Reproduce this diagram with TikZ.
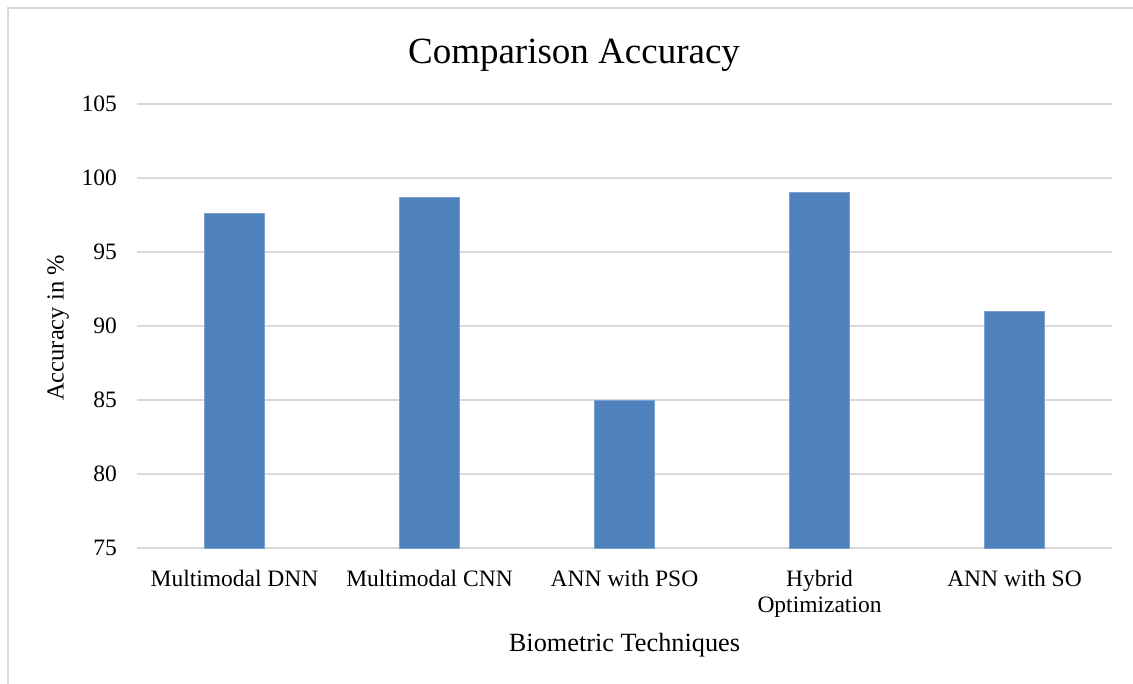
\documentclass[tikz,border=0pt]{standalone}
\usepackage{fontspec}
\setmainfont{Liberation Serif}
\usetikzlibrary{positioning}
\definecolor{barblue}{HTML}{4F81BD}
\definecolor{gridgray}{HTML}{D9D9D9}

\begin{document}
\begin{tikzpicture}[x=1pt, y=1pt,
    gridline/.style={draw=gridgray, line width=1.5pt},
    bar/.style={fill=barblue, draw=barblue!75!white, line width=0.6pt, inner sep=0pt, outer sep=0pt, anchor=south},
    ticklabel/.style={anchor=east, inner sep=0pt, font=\fontsize{23.5}{27}\selectfont},
    catlabel/.style={inner sep=0pt, align=center, font=\fontsize{23.5}{26.5}\selectfont}]
    \useasboundingbox (0,0) rectangle (1133,684);

    % chart frame, only left and top edges are visible
    \draw[gridgray, line width=1.5pt] (8,0) -- (8,676) -- (1133,676);

    \node[font=\fontsize{37}{42}\selectfont, anchor=base](title) at (574,620) {Comparison Accuracy};

    % gridlines and value axis
    \foreach \v [count=\i from 0] in {75,80,85,90,95,100,105}{
        \pgfmathsetmacro{\yy}{136+\i*74}
        \draw[gridline] (137,\yy) -- (1112,\yy);
        \node[ticklabel](t\v) at (117,\yy) {\v};
    }

    % bars with category labels
    \foreach \lab/\val [count=\i] in {Multimodal DNN/97.6, Multimodal CNN/98.7, ANN with PSO/85,
        Hybrid\\Optimization/99, ANN with SO/91}{
        \pgfmathsetmacro{\cx}{137+(\i-0.5)*195}
        \pgfmathsetmacro{\hh}{(\val-75)*14.8}
        \node[bar, minimum width=60pt, minimum height=\hh pt](bar\i) at (\cx,136) {};
        \node[catlabel, below=22pt of bar\i.south, anchor=north](cat\i) {\lab};
    }

    \node[catlabel, font=\fontsize{26.3}{30}\selectfont, anchor=base](xtitle) at (624.5,32) {Biometric Techniques};
    \node[catlabel, font=\fontsize{24.5}{28}\selectfont, rotate=90](ytitle) at (58,356) {Accuracy in \%};
\end{tikzpicture}
\end{document}
